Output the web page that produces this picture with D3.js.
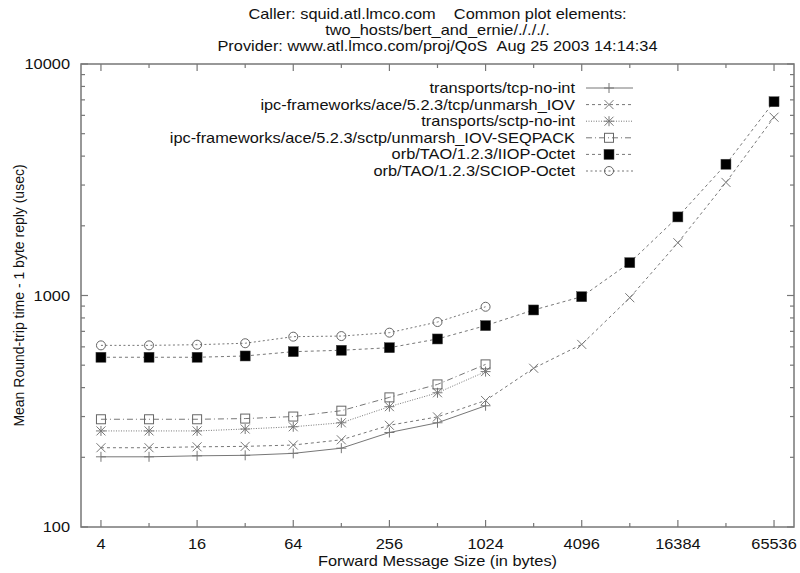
<!DOCTYPE html>
<html>
  <head>
    <meta charset="utf-8">
    <title>Round-trip time</title>
    <script src="https://cdn.jsdelivr.net/npm/d3@7"></script>
    <style>
      body { margin: 0; background: #fff; }
      text {
        font-family: 'Liberation Sans', Arial, sans-serif;
        font-size: 14px;
        fill: #111;
      }
      .frame { fill: none; stroke: #777; stroke-width: 1.5; }
      .tick-line { stroke: #777; stroke-width: 1.2; }
      .series path { fill: none; stroke: #777; stroke-width: 1; }
    </style>
  </head>
  <body>
    <script>

      var outerWidth = 800;
      var outerHeight = 573;
      var margin = { left: 81, top: 64, right: 6, bottom: 46 };
      var stretch = 1.17;   // the picture's text is wider than it is tall

      var innerWidth  = outerWidth  - margin.left - margin.right;
      var innerHeight = outerHeight - margin.top  - margin.bottom;

      // data (usec)
      var sizes = [4, 8, 16, 32, 64, 128, 256, 512, 1024, 2048, 4096, 8192, 16384, 32768, 65536];
      var xTicks = [4, 16, 64, 256, 1024, 4096, 16384, 65536];
      var yTicks = [100, 1000, 10000];

      var tcpNoInt   = [201, 201, 203, 204, 208, 219, 256, 282, 334];
      var aceTcp     = [220, 220, 222, 223, 226, 238, 275, 299, 352, 485, 615, 978, 1690, 3080, 5890];
      var sctpNoInt  = [260, 260, 260, 265, 271, 282, 331, 380, 469];
      var aceSctp    = [292, 292, 292, 294, 300, 318, 363, 413, 504];
      var taoIIOP    = [541, 541, 541, 548, 572, 580, 595, 649, 741, 866, 988, 1386, 2185, 3690, 6870];
      var taoSCIOP   = [609, 609, 613, 622, 664, 668, 691, 768, 894];

      var seriesNames = [
        "transports/tcp-no-int",
        "ipc-frameworks/ace/5.2.3/tcp/unmarsh_IOV",
        "transports/sctp-no-int",
        "ipc-frameworks/ace/5.2.3/sctp/unmarsh_IOV-SEQPACK",
        "orb/TAO/1.2.3/IIOP-Octet",
        "orb/TAO/1.2.3/SCIOP-Octet"
      ];
      var seriesValues = [tcpNoInt, aceTcp, sctpNoInt, aceSctp, taoIIOP, taoSCIOP];
      var dashes = ["none", "3,3", "1,1.5", "6,3,1,3", "3,3", "2,2.5"];
      var markers = ["plus", "cross", "star", "box", "fbox", "circle"];

      var svg = d3.select("body").append("svg")
        .attr("width",  outerWidth)
        .attr("height", outerHeight);

      // places a horizontal text at (x, y), widened like the original
      function wideText(parent, x, y, anchor, str) {
        return parent.append("text")
          .attr("transform", "translate(" + x + "," + y + ") scale(" + stretch + ",1)")
          .attr("text-anchor", anchor)
          .text(str);
      }

      // titles
      var titleX = margin.left + innerWidth / 2;
      var titles = [
        "Caller: squid.atl.lmco.com\u00a0\u00a0\u00a0\u00a0Common plot elements:",
        "two_hosts/bert_and_ernie/./././.",
        "Provider: www.atl.lmco.com/proj/QoS\u00a0\u00a0Aug 25 2003 14:14:34"
      ];
      var titlesBox = svg.append("g");
      titles.forEach(function(t, i) {
        wideText(titlesBox, titleX, 19 + i * 16, "middle", t);
      });

      var g = svg.append("g")
        .attr("transform", "translate(" + margin.left + "," + margin.top + ")");

      var xScale = d3.scaleLog().base(2)
        .domain([3, 87400])
        .range([0, innerWidth]);
      var yScale = d3.scaleLog()
        .domain([100, 10000])
        .range([innerHeight, 0]);

      // ticks (gnuplot style, inward on all four sides)
      var xMinor = [8, 32, 128, 512, 2048, 8192, 32768];
      var yMinor = [];
      [100, 1000].forEach(function(b) {
        for (var k = 2; k <= 9; k++) yMinor.push(b * k);
      });

      var tg = g.append("g");
      function xTickLines(vals, len) {
        vals.forEach(function(v) {
          var x = xScale(v);
          tg.append("line").attr("class", "tick-line")
            .attr("x1", x).attr("x2", x).attr("y1", innerHeight).attr("y2", innerHeight - len);
          tg.append("line").attr("class", "tick-line")
            .attr("x1", x).attr("x2", x).attr("y1", 0).attr("y2", len);
        });
      }
      function yTickLines(vals, len) {
        vals.forEach(function(v) {
          var y = yScale(v);
          tg.append("line").attr("class", "tick-line")
            .attr("x1", 0).attr("x2", len).attr("y1", y).attr("y2", y);
          tg.append("line").attr("class", "tick-line")
            .attr("x1", innerWidth).attr("x2", innerWidth - len).attr("y1", y).attr("y2", y);
        });
      }
      xTickLines(xTicks, 7);
      xTickLines(xMinor, 4);
      yTickLines(yTicks, 7);
      yTickLines(yMinor, 4);

      var xLabels = g.append("g");
      xTicks.forEach(function(d) {
        wideText(xLabels, xScale(d), innerHeight + 22, "middle", d);
      });

      var yLabels = g.append("g");
      yTicks.forEach(function(d) {
        wideText(yLabels, -11, yScale(d) + 5, "end", d);
      });

      wideText(g, innerWidth / 2, innerHeight + 39, "middle", "Forward Message Size (in bytes)");

      g.append("text")
        .attr("transform", "translate(" + (-57) + "," + (innerHeight / 2) + ") rotate(-90)")
        .attr("text-anchor", "middle")
        .text("Mean Round-trip time - 1 byte reply (usec)");

      g.append("rect").attr("class", "frame")
        .attr("width", innerWidth).attr("height", innerHeight);

      function drawMarker(sel, type, x, y) {
        var s = 5;
        if (type === "plus" || type === "star") {
          sel.append("path").attr("d", "M" + (x - s) + "," + y + "H" + (x + s) + "M" + x + "," + (y - s) + "V" + (y + s))
            .attr("stroke", "#555").attr("stroke-width", 1).attr("fill", "none");
        }
        if (type === "cross" || type === "star") {
          var c = 4.5;
          sel.append("path").attr("d", "M" + (x - c) + "," + (y - c) + "L" + (x + c) + "," + (y + c) +
                                       "M" + (x - c) + "," + (y + c) + "L" + (x + c) + "," + (y - c))
            .attr("stroke", "#555").attr("stroke-width", 1).attr("fill", "none");
        }
        if (type === "box") {
          sel.append("rect").attr("x", x - 4.5).attr("y", y - 4.5).attr("width", 9).attr("height", 9)
            .attr("fill", "none").attr("stroke", "#666").attr("stroke-width", 1);
        }
        if (type === "fbox") {
          sel.append("rect").attr("x", x - 5).attr("y", y - 5).attr("width", 10).attr("height", 10)
            .attr("fill", "#000").attr("stroke", "#444").attr("stroke-width", 0.5);
        }
        if (type === "circle") {
          sel.append("circle").attr("cx", x).attr("cy", y).attr("r", 4.5)
            .attr("fill", "none").attr("stroke", "#666").attr("stroke-width", 1);
        }
      }

      var line = d3.line()
        .x(function(d) { return xScale(d[0]); })
        .y(function(d) { return yScale(d[1]); });

      seriesValues.forEach(function(vals, i) {
        var pts = vals.map(function(v, j) { return [sizes[j], v]; });
        var sg = g.append("g").attr("class", "series");
        sg.append("path")
          .attr("d", line(pts))
          .attr("stroke-dasharray", dashes[i]);
        pts.forEach(function(p) {
          drawMarker(sg, markers[i], xScale(p[0]), yScale(p[1]));
        });
      });

      // legend
      var legX = 575 - margin.left;
      var legY0 = 88 - margin.top;
      var legStep = 16.6;
      seriesNames.forEach(function(name, i) {
        var y = legY0 + i * legStep;
        var lg = g.append("g").attr("class", "series");
        wideText(lg, legX, y + 5, "end", name);
        lg.append("path")
          .attr("d", "M" + (legX + 11) + "," + y + "H" + (legX + 58))
          .attr("stroke-dasharray", dashes[i]);
        drawMarker(lg, markers[i], legX + 34, y);
      });

    </script>
  </body>
</html>
